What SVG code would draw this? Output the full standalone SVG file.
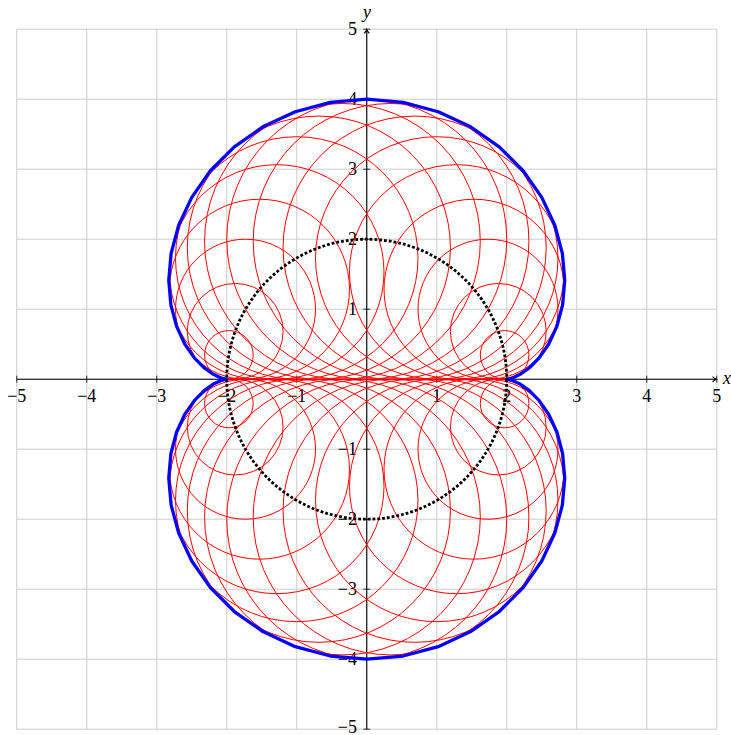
<svg xmlns="http://www.w3.org/2000/svg" width="731" height="735" viewBox="0 0 731 735">
<style>
.grid{stroke:#cbcbcb;stroke-width:1;fill:none}
.axis{stroke:#000;stroke-width:1.1;fill:none}
.tick{stroke:#000;stroke-width:0.8}
.lbl{font-family:"Liberation Serif","Times New Roman",serif;font-size:18px;fill:#000}
.xl{text-anchor:middle}
.yl{text-anchor:end}
.ax{font-family:"Liberation Serif","Times New Roman",serif;font-size:18px;font-style:italic;fill:#000}
.rc{stroke:#ff0000;stroke-width:1;fill:none}
</style>
<rect width="731" height="735" fill="#fff"/>
<g id="grid" class="grid">
<path d="M16.75 29.2V729.2M86.75 29.2V729.2M156.75 29.2V729.2M226.75 29.2V729.2M296.75 29.2V729.2M366.75 29.2V729.2M436.75 29.2V729.2M506.75 29.2V729.2M576.75 29.2V729.2M646.75 29.2V729.2M716.75 29.2V729.2"/>
<path d="M16.75 29.2H716.75M16.75 99.2H716.75M16.75 169.2H716.75M16.75 239.2H716.75M16.75 309.2H716.75M16.75 379.2H716.75M16.75 449.2H716.75M16.75 519.2H716.75M16.75 589.2H716.75M16.75 659.2H716.75M16.75 729.2H716.75"/>
</g>
<g id="axes">
<path class="axis" d="M16.75 379.2H716.2M366.75 729.2V29.7"/>
<path class="axis" d="M712.5 376.6Q714.5 378.6 716.4 379.2Q714.5 379.8 712.5 381.8" stroke-width="0.9"/>
<path class="axis" d="M364.15 33.4Q366.15 31.4 366.75 29.5Q367.35 31.4 369.35 33.4" stroke-width="0.9"/>
<path class="tick" d="M16.75 375.7v7M86.75 375.7v7M156.75 375.7v7M226.75 375.7v7M296.75 375.7v7M436.75 375.7v7M506.75 375.7v7M576.75 375.7v7M646.75 375.7v7M716.75 375.7v7"/>
<path class="tick" d="M363.25 29.2h7M363.25 99.2h7M363.25 169.2h7M363.25 239.2h7M363.25 309.2h7M363.25 449.2h7M363.25 519.2h7M363.25 589.2h7M363.25 659.2h7M363.25 729.2h7"/>
</g>
<g id="tick-labels" class="lbl">
<text class="xl" x="16.75" y="401.5">−5</text>
<text class="xl" x="86.75" y="401.5">−4</text>
<text class="xl" x="156.75" y="401.5">−3</text>
<text class="xl" x="226.75" y="401.5">−2</text>
<text class="xl" x="296.75" y="401.5">−1</text>
<text class="xl" x="436.75" y="401.5">1</text>
<text class="xl" x="506.75" y="401.5">2</text>
<text class="xl" x="576.75" y="401.5">3</text>
<text class="xl" x="646.75" y="401.5">4</text>
<text class="xl" x="716.75" y="401.5">5</text>
<text class="yl" x="357" y="35.4">5</text>
<text class="yl" x="357" y="105.4">4</text>
<text class="yl" x="357" y="175.4">3</text>
<text class="yl" x="357" y="245.4">2</text>
<text class="yl" x="357" y="315.4">1</text>
<text class="yl" x="357" y="455.4">−1</text>
<text class="yl" x="357" y="525.4">−2</text>
<text class="yl" x="357" y="595.4">−3</text>
<text class="yl" x="357" y="665.4">−4</text>
<text class="yl" x="357" y="732.6">−5</text>
</g>
<g id="axis-labels">
<text class="ax" x="723" y="383.5">x</text>
<text class="ax" x="367" y="18" text-anchor="middle">y</text>
</g>
<g id="circles" class="rc" transform="translate(366.75,379.2)">
<circle cx="137.87" cy="-24.31" r="24.31"/>
<circle cx="131.56" cy="-47.88" r="47.88"/>
<circle cx="121.24" cy="-70" r="70"/>
<circle cx="107.25" cy="-89.99" r="89.99"/>
<circle cx="89.99" cy="-107.25" r="107.25"/>
<circle cx="70" cy="-121.24" r="121.24"/>
<circle cx="47.88" cy="-131.56" r="131.56"/>
<circle cx="24.31" cy="-137.87" r="137.87"/>
<circle cx="0" cy="-140" r="140"/>
<circle cx="-24.31" cy="-137.87" r="137.87"/>
<circle cx="-47.88" cy="-131.56" r="131.56"/>
<circle cx="-70" cy="-121.24" r="121.24"/>
<circle cx="-89.99" cy="-107.25" r="107.25"/>
<circle cx="-107.25" cy="-89.99" r="89.99"/>
<circle cx="-121.24" cy="-70" r="70"/>
<circle cx="-131.56" cy="-47.88" r="47.88"/>
<circle cx="-137.87" cy="-24.31" r="24.31"/>
<circle cx="-137.87" cy="24.31" r="24.31"/>
<circle cx="-131.56" cy="47.88" r="47.88"/>
<circle cx="-121.24" cy="70" r="70"/>
<circle cx="-107.25" cy="89.99" r="89.99"/>
<circle cx="-89.99" cy="107.25" r="107.25"/>
<circle cx="-70" cy="121.24" r="121.24"/>
<circle cx="-47.88" cy="131.56" r="131.56"/>
<circle cx="-24.31" cy="137.87" r="137.87"/>
<circle cx="0" cy="140" r="140"/>
<circle cx="24.31" cy="137.87" r="137.87"/>
<circle cx="47.88" cy="131.56" r="131.56"/>
<circle cx="70" cy="121.24" r="121.24"/>
<circle cx="89.99" cy="107.25" r="107.25"/>
<circle cx="107.25" cy="89.99" r="89.99"/>
<circle cx="121.24" cy="70" r="70"/>
<circle cx="131.56" cy="47.88" r="47.88"/>
<circle cx="137.87" cy="24.31" r="24.31"/>
</g>
<g id="nephroid" transform="translate(366.75,379.2)">
<path fill="none" stroke="#0000ff" stroke-width="3.3" stroke-linejoin="round" d="M140 0L141.59 -0.19L146.19 -1.47L153.35 -4.85L162.34 -11.2L172.21 -21.13L181.87 -35L190.14 -52.84L195.87 -74.36L197.99 -98.99L195.61 -125.87L188.07 -153.9L175 -181.87L156.36 -208.44L132.45 -232.34L103.85 -252.34L71.47 -267.43L36.42 -276.82L0 -280L-36.42 -276.82L-71.47 -267.43L-103.85 -252.34L-132.45 -232.34L-156.36 -208.44L-175 -181.87L-188.07 -153.9L-195.61 -125.87L-197.99 -98.99L-195.87 -74.36L-190.14 -52.84L-181.87 -35L-172.21 -21.13L-162.34 -11.2L-153.35 -4.85L-146.19 -1.47L-141.59 -0.19L-140 0L-141.59 0.19L-146.19 1.47L-153.35 4.85L-162.34 11.2L-172.21 21.13L-181.87 35L-190.14 52.84L-195.87 74.36L-197.99 98.99L-195.61 125.87L-188.07 153.9L-175 181.87L-156.36 208.44L-132.45 232.34L-103.85 252.34L-71.47 267.43L-36.42 276.82L0 280L36.42 276.82L71.47 267.43L103.85 252.34L132.45 232.34L156.36 208.44L175 181.87L188.07 153.9L195.61 125.87L197.99 98.99L195.87 74.36L190.14 52.84L181.87 35L172.21 21.13L162.34 11.2L153.35 4.85L146.19 1.47L141.59 0.19Z"/>
</g>
<g id="base-circle">
<circle cx="366.75" cy="379.2" r="140" fill="none" stroke="#000" stroke-width="2.8" stroke-dasharray="2.8 2.0"/>
</g>
</svg>
